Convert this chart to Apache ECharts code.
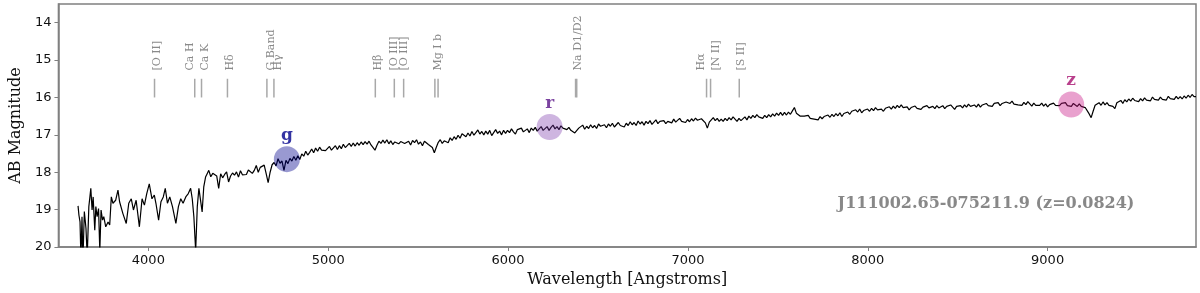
<!DOCTYPE html>
<html>
<head>
<meta charset="utf-8">
<script src="https://cdn.jsdelivr.net/npm/echarts@6/dist/echarts.min.js"></script>
<style>
html,body{margin:0;padding:0;background:#fff;}
#chart{width:1200px;height:293px;}
</style>
</head>
<body>
<div id="chart"></div>
<script>
// ---- data ----
// blue end of the spectrum: wavelengths (Angstrom) and AB magnitudes
const blueWave = [
3609,3614,3620,3625,3631,3636,3644,3653,3660,3669,3675,3680,3687,3693,3702,3708,3715,3723,3730,3737,
3745,3752,3763,3776,3785,3794,3803,3818,3831,3840,3858,3877,3891,3905,3917,3932,3950,3965,3978,3991,
4005,4020,4033,4042,4057,4070,4083,4094,4106,4119,4134,4153,4167,4180,4193,4208,4222,4235,4244,4253,
4263,4272,4281,4290,4299,4308,4318,4327
];
const blueMag = [
18.90,19.15,19.33,20.30,19.19,20.40,19.05,19.50,20.25,18.92,18.66,18.43,19.01,18.66,19.55,18.92,19.19,18.97,20.10,19.01,
19.28,19.19,19.46,19.33,19.41,18.66,18.83,18.75,18.48,18.79,19.10,19.37,18.83,18.71,19.01,18.75,19.46,18.71,18.88,18.57,
18.31,18.71,18.61,18.83,19.28,18.79,18.66,18.43,18.83,18.66,18.92,19.37,18.92,18.71,18.83,18.66,18.57,18.43,18.71,19.19,
20.10,18.92,18.43,18.48,19.06,18.39,18.13,18.04
];
// rest of the spectrum, sampled on a regular 11 Angstrom grid starting at 4336
const gridStart = 4336;
const gridStep = 11;
const gridMag = [
17.95,18.12,18.03,17.98,18.10,18.43,18.04,18.15,18.06,17.99,
18.26,18.10,18.02,18.08,17.99,18.13,17.96,18.07,18.02,18.06,
17.94,17.90,18.03,17.95,17.82,18.00,17.87,17.92,17.81,18.04,
18.28,18.00,17.80,17.74,17.83,17.64,17.76,17.70,17.95,17.68,
17.77,17.63,17.70,17.58,17.68,17.56,17.66,17.51,17.57,17.44,
17.54,17.47,17.38,17.48,17.35,17.44,17.33,17.41,17.36,17.42,
17.38,17.31,17.41,17.35,17.29,17.39,17.29,17.37,17.25,17.34,
17.33,17.23,17.31,17.22,17.30,17.21,17.28,17.19,17.26,17.18,
17.25,17.17,17.27,17.30,17.41,17.28,17.17,17.23,17.14,17.22,
17.13,17.24,17.16,17.26,17.19,17.14,17.24,17.18,17.14,17.23,
17.23,17.17,17.27,17.15,17.21,17.13,17.25,17.19,17.29,17.17,
17.19,17.26,17.25,17.34,17.48,17.33,17.20,17.13,17.23,17.16,
17.12,17.21,17.08,17.15,17.05,17.12,17.01,17.09,16.97,17.00,
17.05,16.95,17.03,16.91,17.01,16.94,16.87,16.98,16.91,17.00,
16.90,16.98,16.88,17.02,16.94,16.86,16.96,16.90,17.00,16.88,
16.96,16.88,16.94,16.84,16.92,16.98,16.86,16.90,16.82,16.92,
16.90,16.84,16.94,16.82,16.88,16.80,16.90,16.84,16.78,16.88,
16.86,16.78,16.88,16.80,16.74,16.84,16.78,16.86,16.76,16.82,
16.78,16.86,16.80,16.88,16.87,16.95,16.92,16.82,16.78,16.74,
16.85,16.77,16.83,16.73,16.81,16.75,16.83,16.71,16.77,16.73,
16.73,16.81,16.71,16.77,16.69,16.79,16.73,16.67,16.75,16.71,
16.79,16.69,16.75,16.65,16.73,16.67,16.75,16.63,16.71,16.65,
16.74,16.64,16.70,16.62,16.72,16.66,16.60,16.70,16.64,16.68,
16.62,16.70,16.64,16.60,16.68,16.58,16.66,16.62,16.56,16.64,
16.61,16.67,16.59,16.65,16.57,16.63,16.55,16.61,16.65,16.57,
16.58,16.68,16.82,16.66,16.60,16.54,16.62,16.56,16.64,16.58,
16.64,16.56,16.62,16.54,16.60,16.52,16.58,16.64,16.56,16.62,
16.58,16.52,16.60,16.50,16.56,16.48,16.54,16.46,16.52,16.48,
16.56,16.48,16.54,16.46,16.52,16.44,16.50,16.42,16.48,16.40,
16.48,16.40,16.47,16.39,16.45,16.36,16.27,16.42,16.47,16.50,
16.46,16.50,16.55,16.48,16.56,16.52,16.58,16.53,16.60,16.51,
16.57,16.51,16.55,16.47,16.53,16.45,16.51,16.43,16.49,16.41,
16.51,16.43,16.47,16.39,16.45,16.37,16.41,16.33,16.39,16.31,
16.41,16.35,16.39,16.31,16.37,16.29,16.35,16.27,16.33,16.29,
16.31,16.37,16.29,16.33,16.25,16.31,16.23,16.29,16.21,16.27,
16.20,16.27,16.32,16.25,16.33,16.27,16.31,16.23,16.29,16.25,
16.32,16.26,16.30,16.22,16.28,16.32,16.24,16.30,16.22,16.28,
16.28,16.22,16.30,16.24,16.28,16.20,16.26,16.32,16.24,16.28,
16.22,16.28,16.20,16.26,16.18,16.24,16.28,16.20,16.26,16.18,
16.26,16.20,16.24,16.16,16.22,16.18,16.24,16.16,16.20,16.14,
16.22,16.16,16.20,16.12,16.08,16.16,16.10,16.18,16.14,16.20,
16.15,16.21,16.13,16.19,16.11,16.17,16.23,16.15,16.21,16.17,
16.21,16.15,16.23,16.17,16.25,16.19,16.23,16.15,16.21,16.17,
16.22,16.16,16.20,16.14,16.22,16.18,16.24,16.16,16.20,16.24,
16.17,16.24,16.19,16.27,16.32,16.44,16.54,16.37,16.21,16.17,
16.14,16.21,16.12,16.20,16.14,16.21,16.16,16.24,16.30,16.14,
16.14,16.08,16.16,16.06,16.12,16.04,16.10,16.02,16.08,16.04,
16.11,16.03,16.09,16.01,16.07,16.03,16.09,15.99,16.05,16.01,
16.07,15.99,16.05,16.01,16.07,15.97,16.03,15.99,16.05,15.97,
16.04,15.98,16.04,15.96,16.02,15.94,16.00,15.92,15.98,15.98
];
const xTicks = [4000, 5000, 6000, 7000, 8000, 9000];
const yTicks = [14, 15, 16, 17, 18, 19, 20];
const redshift = 0.0824;
const lineNames = ['[O II]', 'Ca H', 'Ca K', 'H\u03b4', 'G Band', 'H\u03b3', 'H\u03b2', '[O III]', '[O III]', 'Mg I b', 'Na D1/D2', 'H\u03b1', '[N II]', '[S II]'];
const lineRest = [[3727.1], [3933.7], [3968.5], [4101.7], [4304.4], [4340.5], [4861.3], [4958.9], [5006.8], [5167.3, 5183.6], [5890.0, 5895.9], [6562.8], [6583.4], [6730.8]];
const filterNames = ['g', 'r', 'z'];
const filterWave = [4770, 6231, 9131];
const filterMag = [17.65, 16.79, 16.19];
const objectName = 'J111002.65-075211.9 (z=0.0824)';

// ---- styles ----
const labelNudge = [3, -5, 4, 3, 4, 4, 3, 0, 0, 2, 2, -5, 6, 2];
const filterFill = ['rgba(0,0,139,0.5)', 'rgba(120,50,170,0.45)', 'rgba(199,21,133,0.5)'];
const filterText = ['#00008b', '#5a1488', '#a8106f'];
const serif = "'DejaVu Serif', serif";
const sans = "'DejaVu Sans', sans-serif";

const spectrum = blueWave.map((w, i) => [w, blueMag[i]])
  .concat(gridMag.map((m, i) => [gridStart + gridStep * i, m]));
const linesData = lineNames.map((n, i) => [lineRest[i][0] * (1 + redshift), 15.5, i]);

const chart = echarts.init(document.getElementById('chart'), null, {renderer: 'canvas'});
chart.setOption({
  animation: false,
  grid: {left: 48, right: 4, top: 4, bottom: 46, show: true, borderColor: '#808080', borderWidth: 1.5},
  xAxis: {
    type: 'value', min: 3500, max: 9825,
    name: 'Wavelength [Angstroms]', nameLocation: 'middle', nameGap: 23,
    nameTextStyle: {fontFamily: serif, fontSize: 16, color: '#111'},
    axisLine: {show: true, lineStyle: {color: '#808080', width: 1.5}},
    axisTick: {show: true, length: 4, lineStyle: {color: '#808080'}, customValues: xTicks},
    axisLabel: {fontFamily: sans, fontSize: 13, color: '#111', margin: 7, customValues: xTicks, formatter: v => String(v)},
    splitLine: {show: false}
  },
  yAxis: {
    type: 'value', inverse: true, min: 13.5, max: 20,
    name: 'AB Magnitude', nameLocation: 'middle', nameGap: 27, nameRotate: 90,
    nameTextStyle: {fontFamily: serif, fontSize: 16, color: '#111'},
    axisLine: {show: true, lineStyle: {color: '#808080', width: 1.5}},
    axisTick: {show: true, length: 4, lineStyle: {color: '#808080'}, customValues: yTicks},
    axisLabel: {fontFamily: sans, fontSize: 13, color: '#111', margin: 7, customValues: yTicks, formatter: v => String(v)},
    splitLine: {show: false}
  },
  series: [
    {
      type: 'custom',
      data: linesData,
      clip: false,
      renderItem: function (params, api) {
        const i = api.value(2);
        const children = [];
        lineRest[i].forEach(function (rw) {
          const w = rw * (1 + redshift);
          const p1 = api.coord([w, 15.5]);
          const p2 = api.coord([w, 16.0]);
          children.push({type: 'line', shape: {x1: p1[0], y1: p1[1], x2: p2[0], y2: p2[1]},
            style: {stroke: '#a8a8a8', lineWidth: 1.5}});
        });
        let sum = 0;
        lineRest[i].forEach(function (rw) { sum += rw; });
        const mean = sum / lineRest[i].length * (1 + redshift);
        const pt = api.coord([mean, 15.28]);
        children.push({type: 'text', x: pt[0] + labelNudge[i], y: pt[1], rotation: Math.PI / 2,
          style: {text: lineNames[i], fill: '#8a8a8a', font: "11px 'DejaVu Serif'", align: 'left', verticalAlign: 'middle'}});
        return {type: 'group', children: children};
      }
    },
    {
      type: 'line',
      data: spectrum,
      showSymbol: false,
      symbol: 'none',
      lineStyle: {color: '#000', width: 1.2},
      clip: true,
      z: 3
    },
    {
      type: 'scatter',
      z: 4,
      symbolSize: 26,
      data: filterNames.map((n, i) => ({
        name: n, value: [filterWave[i], filterMag[i]],
        itemStyle: {color: filterFill[i]},
        label: {color: filterText[i]}
      })),
      label: {show: true, position: 'top', distance: 2, formatter: '{b}', fontFamily: serif, fontWeight: 'bold', fontSize: 17}
    }
  ],
  graphic: [{
    type: 'text', x: 986, y: 204,
    style: {text: objectName, fill: '#888888', font: "bold 16px 'DejaVu Serif'", align: 'center', verticalAlign: 'middle'}
  }]
});
</script>
</body>
</html>
